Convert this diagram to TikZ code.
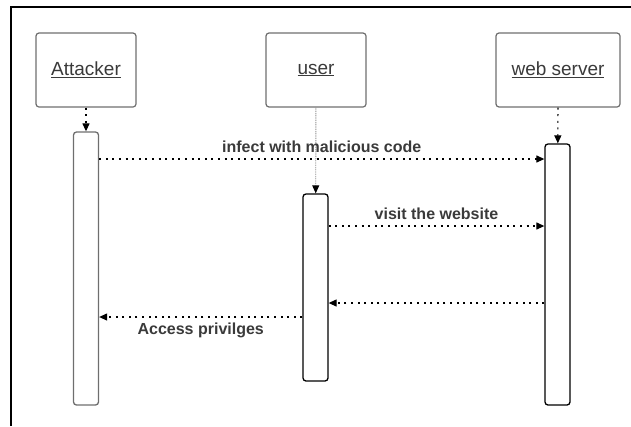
\documentclass[tikz,border=0pt]{standalone}
\usepackage{fontspec}
\setmainfont{Liberation Sans}
\usetikzlibrary{arrows.meta}
\definecolor{txtgrey}{HTML}{3A3A3A}
\definecolor{boxgrey}{HTML}{6E6E6E}
\tikzset{
  actor/.style={draw=boxgrey, line width=1.2pt, rounded corners=3pt, minimum height=74pt, text=txtgrey, font=\fontsize{19}{22}\selectfont},
  bar/.style={draw, line width=1.3pt, rounded corners=3pt, minimum width=25pt, inner sep=0pt},
  msg/.style={dash pattern=on 2pt off 4.6pt, line width=1.2pt, -{Triangle[length=8pt,width=7pt]}},
  lbl/.style={text=txtgrey, font=\fontsize{16}{19}\selectfont\bfseries}
}
\begin{document}
\begin{tikzpicture}[x=1pt, y=-1pt]
      \useasboundingbox (0,0) rectangle (631,426);
      \draw[line width=1.3pt] (11,426) -- (11,7) -- (631,7);
      % actors
      \draw
        (86,70) node[actor, minimum width=100pt] (attacker){\underline{Attacker}}
        (316,70) node[actor, minimum width=100pt] (user){\underline{user}}
        (558,70) node[actor, minimum width=124pt] (server){\underline{web server}};
      % activation bars
      \draw
        (86,268.5) node[bar, draw=boxgrey, minimum height=273pt] (attbar){}
        (315.5,287.5) node[bar, minimum height=187pt] (userbar){}
        (557.5,274.5) node[bar, minimum height=261pt] (serverbar){};
      % lifelines
      \begin{scope}[msg]
        \draw (attacker) to (attbar);
        \draw (server) to (serverbar);
      \end{scope}
      \draw[boxgrey!75, line width=0.9pt, dash pattern=on 1pt off 0.8pt, -{Triangle[length=8pt,width=7pt,color=black]}]
        (user) to (userbar);
      % messages
      \begin{scope}[msg]
        \draw (attbar.east |- 0,159) to node[lbl, above=2pt, pos=0.5]{infect with malicious code} (serverbar.west |- 0,159);
        \draw (userbar.east |- 0,226) to node[lbl, above=2pt, pos=0.5]{visit the website} (serverbar.west |- 0,226);
        \draw (serverbar.west |- 0,303) to (userbar.east |- 0,303);
        \draw (userbar.west |- 0,317) to node[lbl, below=2pt, pos=0.5]{Access privilges} (attbar.east |- 0,317);
      \end{scope}
    \end{tikzpicture}
\end{document}
